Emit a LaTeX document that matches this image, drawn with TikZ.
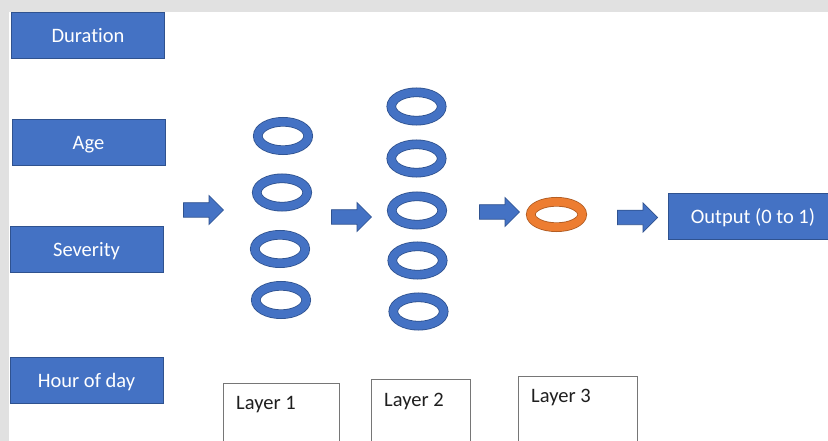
\documentclass[tikz,border=0pt]{standalone}
\usepackage{fontspec}
\setmainfont[Ligatures=NoCommon]{Carlito}
\usetikzlibrary{shapes.geometric}

\definecolor{boxblue}{HTML}{4472C4}
\definecolor{boxedge}{HTML}{2F528F}
\definecolor{ringorange}{HTML}{ED7D31}
\definecolor{orangeedge}{HTML}{AE5A21}
\definecolor{pagegray}{HTML}{E1E1E1}
\definecolor{layeredge}{HTML}{767676}

\tikzset{
  inputbox/.style={rectangle, fill=boxblue, draw=boxedge, line width=0.8pt,
    minimum width=153pt, minimum height=46pt, inner sep=0pt, text=white,
    text height=15pt, text depth=0pt,
    font=\fontsize{20.5}{24}\selectfont},
  ring/.style={ellipse, draw=boxedge, double=boxblue, double distance=8pt,
    line width=0.8pt, minimum width=50.4pt, minimum height=28.4pt, inner sep=0pt},
  outring/.style={ellipse, draw=orangeedge, double=ringorange, double distance=8pt,
    line width=0.8pt, minimum width=51.4pt, minimum height=25.4pt, inner sep=0pt},
  layerbox/.style={draw=layeredge, line width=0.8pt, fill=white},
  layerlabel/.style={anchor=base west, inner sep=0pt, text=black!88,
    font=\fontsize{20.5}{24}\selectfont},
  blockarrow/.pic={
    \path[fill=boxblue, draw=boxedge, line width=0.7pt]
      (-20,-7.25) -- (5.5,-7.25) -- (5.5,-14.5) -- (20,0) -- (5.5,14.5)
      -- (5.5,7.25) -- (-20,7.25) -- cycle;
  }
}

\begin{document}
\begin{tikzpicture}[x=1pt, y=-1pt]
  \useasboundingbox (0,0) rectangle (828,441);
  \clip (0,0) rectangle (828,441);

  % page background
  \fill[pagegray] (0,0) rectangle (828,441);
  \fill[white] (9,12) rectangle (828,441);

  % input features
  \node[inputbox] (duration) at (88,35)    {Duration};
  \node[inputbox] (age)      at (88.5,142) {Age};
  \node[inputbox] (severity) at (86.5,249) {Severity};
  \node[inputbox] (hour)     at (86.5,380) {Hour of day};

  % output
  \node[inputbox, minimum width=170pt] (output) at (753,216) {Output (0 to 1)};

  % block arrows between stages
  \pic at (203.5,210) {blockarrow};
  \pic at (351.5,217) {blockarrow};
  \pic at (499.5,212) {blockarrow};
  \pic at (637.5,217.5) {blockarrow};

  % layer 1 neurons
  \node[ring] (l1a) at (283,136) {};
  \node[ring] (l1b) at (282,192.5) {};
  \node[ring] (l1c) at (280,249) {};
  \node[ring] (l1d) at (281,300) {};

  % layer 2 neurons
  \node[ring] (l2a) at (416.5,106.5) {};
  \node[ring] (l2b) at (416.5,158.5) {};
  \node[ring] (l2c) at (417,210.5) {};
  \node[ring] (l2d) at (417.5,260.5) {};
  \node[ring] (l2e) at (418.5,311.5) {};

  % layer 3 neuron
  \node[outring] (l3a) at (556.5,214.5) {};

  % layer captions
  \draw[layerbox] (223,470) |- (339,383) -- (339,470);
  \node[layerlabel] (cap1) at (236,409.5) {Layer 1};
  \draw[layerbox] (371,470) |- (470,379) -- (470,470);
  \node[layerlabel] (cap2) at (384,406) {Layer 2};
  \draw[layerbox] (518,470) |- (637,376) -- (637,470);
  \node[layerlabel] (cap3) at (531,402.5) {Layer 3};
\end{tikzpicture}
\end{document}
